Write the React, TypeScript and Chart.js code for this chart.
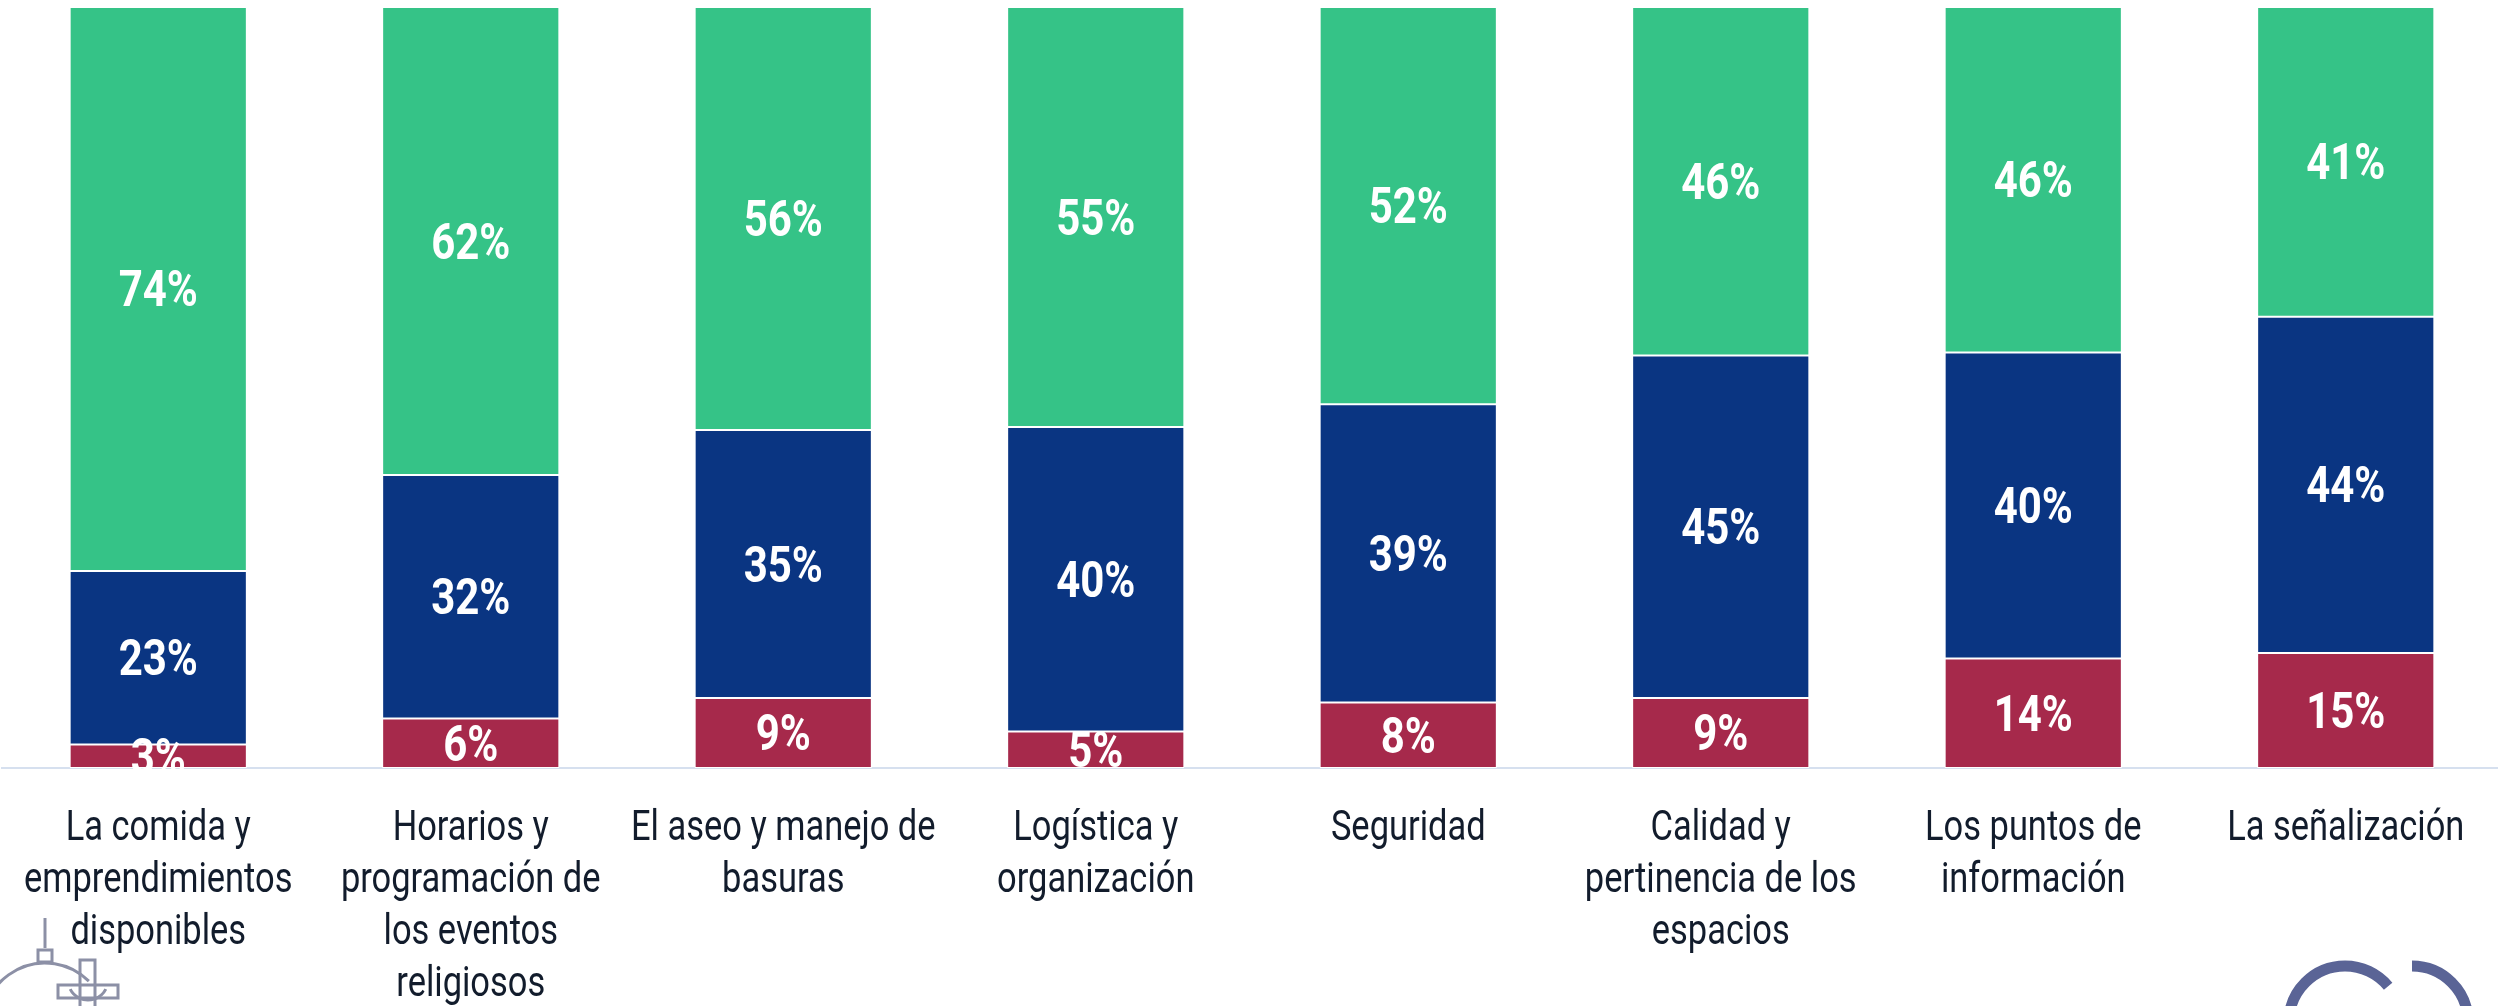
import React, { useEffect, useRef } from 'react';
import { Chart, registerables } from 'chart.js';

Chart.register(...registerables);

const categories: string[][] = [
  ['La comida y', 'emprendimientos', 'disponibles'],
  ['Horarios y', 'programación de', 'los eventos', 'religiosos'],
  ['El aseo y manejo de', 'basuras'],
  ['Logística y', 'organización'],
  ['Seguridad'],
  ['Calidad y', 'pertinencia de los', 'espacios'],
  ['Los puntos de', 'información'],
  ['La señalización'],
];

const redValues = [3.1, 6.5, 9.2, 4.8, 8.6, 9.2, 14.4, 15.1];
const blueValues = [22.8, 32.0, 35.2, 40.0, 39.2, 45.0, 40.2, 44.2];
const greenValues = [74.1, 61.5, 55.6, 55.2, 52.2, 45.8, 45.4, 40.7];

const redLabels = ['3%', '6%', '9%', '5%', '8%', '9%', '14%', '15%'];
const blueLabels = ['23%', '32%', '35%', '40%', '39%', '45%', '40%', '44%'];
const greenLabels = ['74%', '62%', '56%', '55%', '52%', '46%', '46%', '41%'];

const RED = '#A6294B';
const BLUE = '#0A3582';
const GREEN = '#35C387';

function condensedText(ctx: CanvasRenderingContext2D, text: string, x: number, y: number, sx: number) {
  ctx.save();
  ctx.translate(x, y);
  ctx.scale(sx, 1);
  ctx.fillText(text, 0, 0);
  ctx.restore();
}

const labelsPlugin = {
  id: 'customLabels',
  afterDatasetsDraw(chart: any) {
    const ctx: CanvasRenderingContext2D = chart.ctx;
    const allLabels = [redLabels, blueLabels, greenLabels];
    ctx.save();
    ctx.fillStyle = '#ffffff';
    ctx.font = '700 50px Roboto';
    ctx.textAlign = 'center';
    ctx.textBaseline = 'middle';
    chart.data.datasets.forEach((ds: any, di: number) => {
      const meta = chart.getDatasetMeta(di);
      meta.data.forEach((bar: any, i: number) => {
        const cy = (bar.y + bar.base) / 2 + 5;
        condensedText(ctx, allLabels[di][i], bar.x, cy, 0.84);
      });
    });
    ctx.restore();
  },
  afterDraw(chart: any) {
    const ctx: CanvasRenderingContext2D = chart.ctx;
    const xScale = chart.scales.x;
    ctx.save();
    ctx.fillStyle = '#121c2c';
    ctx.font = '400 42px Roboto';
    ctx.textAlign = 'center';
    ctx.textBaseline = 'alphabetic';
    categories.forEach((lines, i) => {
      const x = xScale.getPixelForTick(i);
      lines.forEach((line, li) => {
        condensedText(ctx, line, x, xScale.top + 72 + li * 52, 0.82);
      });
    });
    ctx.restore();

    // decorative logos (approximate)
    ctx.save();
    ctx.strokeStyle = '#8c90a6';
    ctx.lineWidth = 3;
    ctx.beginPath();
    ctx.moveTo(45, 918);
    ctx.lineTo(45, 948);
    ctx.stroke();
    ctx.beginPath();
    ctx.moveTo(38, 950);
    ctx.lineTo(52, 950);
    ctx.lineTo(52, 962);
    ctx.lineTo(38, 962);
    ctx.closePath();
    ctx.stroke();
    ctx.beginPath();
    ctx.arc(45, 1025, 62, Math.PI * 1.05, Math.PI * 1.75);
    ctx.stroke();
    ctx.beginPath();
    ctx.moveTo(80, 1006);
    ctx.lineTo(80, 960);
    ctx.lineTo(95, 960);
    ctx.lineTo(95, 1006);
    ctx.stroke();
    ctx.beginPath();
    ctx.moveTo(58, 985);
    ctx.lineTo(118, 985);
    ctx.lineTo(118, 998);
    ctx.lineTo(58, 998);
    ctx.closePath();
    ctx.stroke();
    ctx.beginPath();
    ctx.arc(88, 980, 20, Math.PI * 0.15, Math.PI * 0.85);
    ctx.stroke();
    ctx.restore();

    ctx.save();
    ctx.strokeStyle = '#5a6496';
    ctx.lineWidth = 11;
    ctx.beginPath();
    ctx.arc(2345, 1022, 56, Math.PI * 1.0, Math.PI * 1.78);
    ctx.stroke();
    ctx.beginPath();
    ctx.arc(2412, 1022, 56, Math.PI * 1.5, Math.PI * 2.0);
    ctx.stroke();
    ctx.restore();
  },
};

export default function App() {
  const canvasRef = useRef<HTMLCanvasElement | null>(null);

  useEffect(() => {
    if (!canvasRef.current) return;
    const chart = new Chart(canvasRef.current, {
      type: 'bar',
      data: {
        labels: categories.map((c) => c.join(' ')),
        datasets: [
          { label: 'Negativo', data: redValues, backgroundColor: RED },
          { label: 'Neutral', data: blueValues, backgroundColor: BLUE },
          { label: 'Positivo', data: greenValues, backgroundColor: GREEN },
        ].map((d) => ({
          ...d,
          borderColor: '#ffffff',
          borderWidth: 1,
          borderSkipped: false,
          barPercentage: 0.567,
          categoryPercentage: 1,
        })),
      },
      options: {
        responsive: false,
        animation: false,
        devicePixelRatio: 1,
        layout: { padding: { top: 7, left: 2, right: 0, bottom: 0 } },
        plugins: {
          legend: { display: false },
          tooltip: { enabled: false },
        },
        scales: {
          x: {
            stacked: true,
            grid: { display: false, drawTicks: false },
            border: { display: true, color: '#d6e0ef', width: 2 },
            ticks: { display: false },
            afterFit: (scale: any) => {
              scale.height = 238;
            },
          },
          y: {
            stacked: true,
            display: false,
            min: 0,
            max: 100,
          },
        },
      },
      plugins: [labelsPlugin],
    });
    return () => chart.destroy();
  }, []);

  return (
    <div
      style={{
        position: 'fixed',
        left: 0,
        top: 0,
        width: 2498,
        height: 1006,
        overflow: 'hidden',
        background: '#ffffff',
      }}
    >
      <canvas ref={canvasRef} width={2502} height={1006} style={{ display: 'block', width: 2502, height: 1006 }} />
    </div>
  );
}
